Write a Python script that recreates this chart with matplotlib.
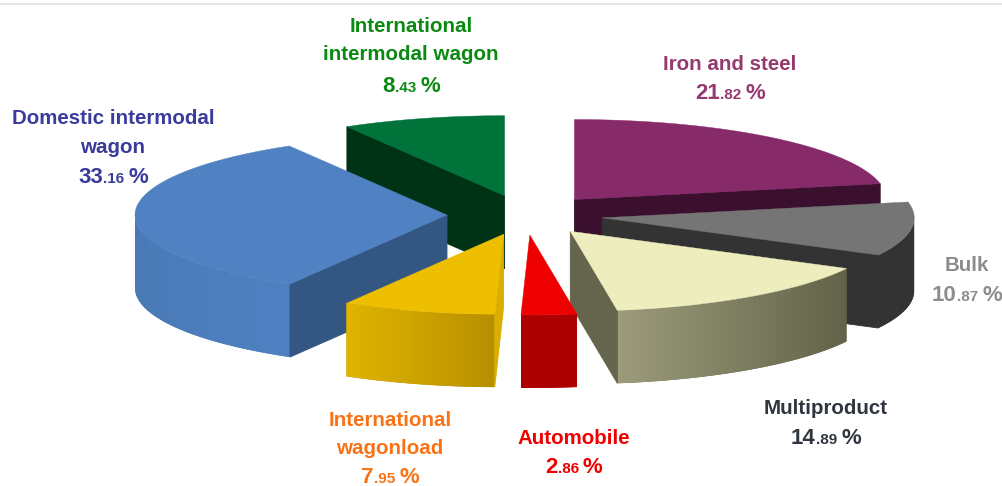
#!/usr/bin/env python3
# exploded 3D pie of wagon traffic shares, drawn on a pixel sized axes
import numpy as np
import matplotlib
matplotlib.use('Agg')
import matplotlib.pyplot as plt
from matplotlib.colors import to_rgb
from matplotlib.patches import Polygon

plt.rcParams['font.family'] = ['Liberation Sans', 'DejaVu Sans']

# clockwise from 12 o'clock
categories = ['Iron and steel', 'Bulk', 'Multiproduct', 'Automobile',
              'International wagonload', 'Domestic intermodal wagon',
              'International intermodal wagon']
shares = [21.82, 10.87, 14.89, 2.86, 7.95, 33.16, 8.43]

label_lines = [['Iron and steel'], ['Bulk'], ['Multiproduct'], ['Automobile'],
               ['International', 'wagonload'], ['Domestic intermodal', 'wagon'],
               ['International', 'intermodal wagon']]

# styles
top_colors = ['#862A6A', '#757575', '#EDEDBE', '#EE0000', '#EEBE00', '#4F81C3', '#00733A']
face_colors = ['#3B0F2E', '#333333', '#65654E', '#AE0000', '#D9AE00', '#335683', '#003316']
rim_left = ['#3B0F2E', '#333333', '#9C9C7C', '#AE0000', '#E0B400', '#4A7AB6', '#003316']
rim_right = ['#3B0F2E', '#333333', '#636349', '#AE0000', '#B88F00', '#4F81C3', '#003316']
text_colors = ['#953A6F', '#8C8C8C', '#2F3640', '#F00000', '#F97316', '#3B3B9B', '#0B8A12']

# pie geometry in pixels
CX, CY = 525, 215
RX, RY = 312, 80
EXPLODE = 0.25
DEPTH = 73
FONT = 14.8
FONT_VALUE = 16
FONT_SMALL = 11

# centre x of the label, then the baseline of each line
label_x = [730, 967, 826, 574, 390, 113, 411]
label_y = [[70, 99], [271, 301], [414, 444], [444, 473],
           [426, 454, 483], [124, 153, 183], [32, 60, 92]]

fig = plt.figure(figsize=(10.03, 4.86), dpi=100)
ax = fig.add_axes([0, 0, 1, 1])
ax.axis('off')
ax.axhline(4, color='#E2E2E2', lw=1.2)


def arc(apex, a0, a1, n=80):
    t = np.radians(np.linspace(a0, a1, n))
    return np.column_stack([apex[0] + RX*np.sin(t), apex[1] - RY*np.cos(t)])


def draw_face(apex, a, color, z):
    p = arc(apex, a, a, 1)[0]
    pts = [apex, p, (p[0], p[1]+DEPTH), (apex[0], apex[1]+DEPTH)]
    ax.add_patch(Polygon(pts, closed=True, fc=color, ec=color, lw=0.6, zorder=z))


def draw_slice(i, a0, a1, z):
    mid = np.radians((a0+a1)/2)
    apex = (CX + EXPLODE*RX*np.sin(mid), CY - EXPLODE*RY*np.cos(mid))

    # outer rim, front half only, gradient image clipped to the rim shape
    r0, r1 = max(a0, 90), min(a1, 270)
    if r1 > r0:
        edge = arc(apex, r0, r1)
        lower = edge[::-1] + [0, DEPTH]
        rim = Polygon(np.vstack([edge, lower]), closed=True, fc=rim_right[i], ec='none', zorder=z)
        ax.add_patch(rim)
        cl, cr = np.array(to_rgb(rim_left[i])), np.array(to_rgb(rim_right[i]))
        grad = np.linspace(cl, cr, 128)[np.newaxis, :, :]
        im = ax.imshow(grad, extent=[edge[:, 0].min(), edge[:, 0].max(),
                                     lower[:, 1].max(), edge[:, 1].min()],
                       aspect='auto', interpolation='bilinear', zorder=z+0.05)
        im.set_clip_path(rim)

    # cut faces, only the ones turned to the viewer
    if np.sin(np.radians(a0)) < 0:
        draw_face(apex, a0, face_colors[i], z+0.1)
    if np.sin(np.radians(a1)) > 0:
        draw_face(apex, a1, face_colors[i], z+0.1)

    top = np.vstack([[apex], arc(apex, a0, a1)])
    ax.add_patch(Polygon(top, closed=True, fc=top_colors[i], ec=top_colors[i], lw=0.3, zorder=z+0.2))


# angles from the shares
edges = np.concatenate([[0], np.cumsum(shares)])/np.sum(shares)*360

# back to front
order = [6, 0, 1, 5, 2, 4, 3]
for z, i in enumerate(order):
    draw_slice(i, edges[i], edges[i+1], z+1)

# imshow resets the limits, so set them afterwards
ax.set_xlim(0, 1003)
ax.set_ylim(486, 0)

# labels, decimals of the value are set smaller
rend = fig.canvas.get_renderer()


def width(t):
    return t.get_window_extent(rend).width


for i, lines in enumerate(label_lines):
    ys = label_y[i]
    for line, y in zip(lines, ys):
        ax.text(label_x[i], y, line, color=text_colors[i], fontsize=FONT, fontweight='bold',
                ha='center', va='baseline', zorder=20)

    whole, dec = f'{shares[i]:.2f}'.split('.')
    parts = [(whole, FONT_VALUE), ('.'+dec+'\u00a0', FONT_SMALL), ('%', FONT_VALUE)]
    txt = [ax.text(0, ys[-1], s, color=text_colors[i], fontsize=fs, fontweight='bold',
                   ha='left', va='baseline', zorder=20) for s, fs in parts]
    # advance widths, measured with a bar on both sides to keep the spaces
    w = []
    for s, fs in parts:
        t1 = ax.text(0, 0, '|'+s+'|', fontsize=fs, fontweight='bold')
        t2 = ax.text(0, 0, '||', fontsize=fs, fontweight='bold')
        w.append(width(t1)-width(t2))
        t1.remove()
        t2.remove()
    x = label_x[i] - sum(w)/2
    for t, ww in zip(txt, w):
        t.set_x(x)
        x += ww

plt.savefig('out.png', dpi=100)
